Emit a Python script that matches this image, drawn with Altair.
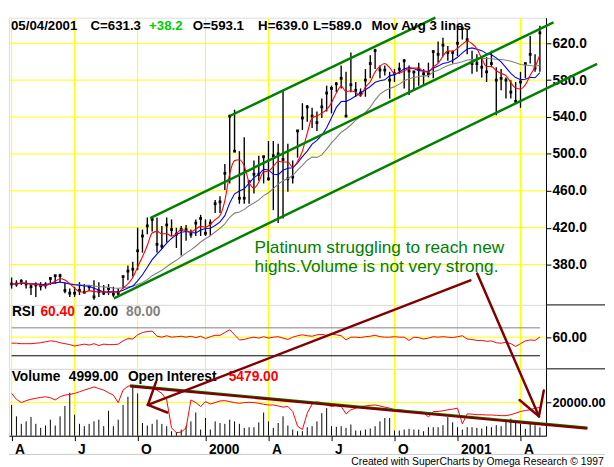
import json
import altair as alt
import pandas as pd

# ---------------- data ----------------
high = [366, 363, 364, 363, 359, 361, 361, 361, 366, 368,
        370, 361, 354, 356, 361, 359, 358, 363, 361, 358,
        359, 356, 354, 368, 379, 383, 420, 418, 431, 430,
        431, 422, 431, 429, 420, 422, 423, 418, 429, 434,
        429, 429, 450, 454, 489, 541, 548, 503, 518, 471,
        493, 498, 498, 514, 514, 511, 569, 511, 493, 526,
        555, 553, 550, 546, 560, 574, 574, 578, 596, 589,
        610, 578, 571, 592, 607, 614, 596, 596, 589, 592,
        599, 603, 596, 590, 599, 592, 599, 612, 622, 626,
        617, 612, 638, 637, 635, 612, 608, 603, 605, 612,
        594, 592, 583, 580, 578, 589, 598, 628, 608, 639.0]
low = [354, 356, 358, 354, 347, 345, 352, 354, 358, 359,
       361, 349, 345, 345, 347, 349, 351, 342, 345, 347,
       347, 345, 347, 354, 363, 367, 374, 393, 413, 416,
       393, 397, 404, 411, 398, 390, 406, 409, 411, 411,
       411, 411, 436, 436, 461, 468, 502, 446, 446, 446,
       457, 471, 468, 471, 439, 425, 430, 459, 468, 496,
       526, 535, 528, 525, 539, 546, 544, 567, 571, 541,
       567, 562, 562, 562, 582, 592, 582, 585, 560, 578,
       587, 571, 564, 569, 574, 574, 583, 582, 599, 606,
       601, 598, 606, 624, 608, 587, 589, 583, 578, 594,
       542, 569, 560, 560, 555, 550, 582, 598, 589, 589.0]
close = [359, 359, 362, 359, 356, 358, 357, 358, 365, 368,
         368, 352, 349, 349, 352, 350, 356, 345, 351, 349,
         354, 348, 349, 367, 373, 375, 395, 411, 422, 429,
         402, 400, 423, 418, 413, 418, 418, 413, 425, 430,
         414, 425, 446, 448, 479, 541, 503, 452, 452, 470,
         478, 478, 497, 473, 498, 500, 494, 473, 475, 525,
         539, 551, 541, 534, 551, 566, 571, 576, 582, 541,
         575, 569, 566, 580, 598, 612, 591, 591, 580, 587,
         592, 601, 590, 589, 592, 587, 587, 611, 608, 618,
         610, 610, 620, 636, 624, 598, 598, 594, 589, 598,
         580, 582, 580, 567, 557, 578, 598, 608, 593.1, 631.3]
rsi = [47, 47, 46, 46, 46, 47, 48, 50, 52, 51,
       48, 46, 44, 41, 43, 45, 43, 46, 42, 45,
       44, 44, 45, 52, 57, 56, 65, 70, 72, 73,
       62, 60, 63, 60, 61, 62, 60, 62, 59, 62,
       57, 61, 64, 64, 70, 76, 65, 54, 55, 58,
       60, 58, 61, 58, 60, 61, 58, 55, 60, 63,
       65, 63, 62, 65, 66, 64, 66, 65, 63, 54,
       60, 60, 59, 61, 62, 64, 61, 60, 60, 61,
       60, 60, 53, 60, 59, 56, 58, 61, 60, 61,
       60, 59, 61, 63, 56, 55, 53, 53, 51, 52,
       48, 47, 49, 46, 40, 46, 52, 54, 53, 60.4]
volume = [18400, 11600, 7100, 8600, 11200, 7100, 4700, 6100, 9600, 6100,
          11600, 17800, 25700, 12600, 7100, 5700, 7100, 8600, 9600, 5700,
          14900, 5700, 9600, 18400, 23300, 29200, 25300, 7600, 6100, 7100,
          9600, 7100, 5700, 2700, 2200, 3700, 5700, 8600, 13900, 3700,
          10600, 3700, 8600, 7600, 7100, 9600, 8600, 7100, 4700, 5100,
          5100, 8000, 13900, 8600, 4700, 7600, 11600, 6100, 3700, 2700,
          2700, 5100, 5700, 8600, 13500, 16500, 5700, 5300, 5700, 4700,
          6700, 3100, 3100, 3700, 4300, 5700, 8600, 10600, 10600, 3100,
          3100, 3700, 4100, 3700, 3700, 2700, 5100, 5100, 5100, 6300,
          11200, 8000, 5100, 3700, 5100, 5100, 4700, 4300, 5700, 5100,
          6300, 5700, 8600, 10200, 9000, 7100, 4100, 7100, 6300, 4999]
open_interest = [25300, 21800, 19800, 21000, 21800, 22400, 22900, 23300, 22700, 21400,
                 23300, 24300, 24700, 25300, 26300, 27300, 28200, 29200, 28200, 27300,
                 25700, 24300, 19800, 27300, 29600, 30200, 29600, 29200, 28800, 28200,
                 27300, 25300, 21400, 4700, 1800, 2200, 4700, 21400, 19800, 17500,
                 20400, 19000, 19800, 20800, 21000, 20400, 19800, 19400, 19800, 20000,
                 19800, 19400, 18800, 18400, 18400, 17800, 17100, 17500, 14500, 5700,
                 3700, 13500, 19000, 20200, 19800, 18400, 17500, 18200, 17500, 13100,
                 15500, 16500, 17500, 17800, 18200, 18400, 17800, 17100, 16500, 15500,
                 15500, 15100, 14500, 14500, 14500, 13900, 11200, 14500, 14500, 14900,
                 15500, 15900, 16500, 7100, 13100, 12900, 12600, 12600, 12400, 12400,
                 12200, 12000, 12000, 12600, 13500, 14500, 15100, 15500, 16500, 16900]

# axis / grid values
quarter_bars = [0, 13, 26, 40, 53, 66, 79, 92, 105]
quarter_labels = ["A", "J", "O", "2000", "A", "J", "O", "2001", "A"]
price_ticks = [380, 420, 460, 500, 540, 580, 620]
rsi_grid = [60]
rsi_levels = [80, 20]
rsi_level_names = ["80.00", "20.00"]
volume_grid = [20000]

# hand-drawn trend channel (bar index, price)
channel_name = ["upper", "upper", "middle", "middle", "lower", "lower"]
channel_bar = [45.1, 87.45, 28.6, 111.8, 21.1, 120.8]
channel_price = [541.4, 647.7, 430.4, 642.7, 343.4, 597.6]

# volume trend line (bar index, volume)
vtrend_bar = [24.46, 118.8]
vtrend_vol = [29600, 4300]

# annotation arrows, in volume-panel coordinates (bar index, volume)
arrow_x = [94.66, 28.12, 28.12, 96.06, 108.8, 108.8]
arrow_y = [92900, 18400, 18400, 97000, 11600, 11600]
arrow_x2 = [28.12, 29.8, 32.12, 108.8, 104.8, 109.8]
arrow_y2 = [18400, 32200, 13900, 11600, 21400, 27100]

# ---------------- chart ----------------
FONT = "Liberation Sans"
W = 546
YELLOW = "#FFFF00"
GREEN = "#008000"
DARKRED = "#800000"

n = len(close)
df = pd.DataFrame({"bar": list(range(n)), "high": high, "low": low, "close": close,
                   "rsi": rsi, "vol": volume, "oi": open_interest})
one = pd.DataFrame({"k": [0]})

xscale = alt.Scale(domain=[-0.54, 110.26], nice=False, zero=False)
X_none = alt.X("bar:Q", scale=xscale, axis=None)

label_expr = f"{json.dumps(quarter_labels)}[indexof({json.dumps(quarter_bars)}, datum.value)]"
x_axis = alt.Axis(orient="bottom", values=quarter_bars, labelExpr=label_expr, title=None,
                  grid=False, labelAlign="left", labelBaseline="top", labelPadding=2,
                  labelOffset=3, labelFontSize=14, labelFontWeight="bold", labelColor="black",
                  labelFont=FONT, tickColor="black", tickSize=5, domainColor="black",
                  labelFlush=False, labelOverlap=False)
X_axis = alt.X("bar:Q", scale=xscale, axis=x_axis)


def yaxis(values, fmt, size=14):
    return alt.Axis(orient="right", values=values, format=fmt, title=None, grid=False,
                    tickSize=5, tickColor="black", domainColor="black", labelPadding=1,
                    labelFontSize=size, labelFontWeight="bold", labelColor="black",
                    labelFont=FONT)


pscale = alt.Scale(domain=[336.3, 647.7], nice=False, zero=False)
paxis = yaxis(price_ticks, ".1f")
rscale = alt.Scale(domain=[-8.1, 129.3], nice=False, zero=False)
raxis = yaxis(rsi_grid, ".2f")
vscale = alt.Scale(domain=[0, 40000], nice=False, zero=False)
vaxis = yaxis(volume_grid, ".2f", 13)


def Yp(f):
    return alt.Y(f"{f}:Q", scale=pscale, axis=paxis)


def Yr(f):
    return alt.Y(f"{f}:Q", scale=rscale, axis=raxis)


def Yv(f):
    return alt.Y(f"{f}:Q", scale=vscale, axis=vaxis)


def txt(text, x, y, color="black", size=14, weight="bold", baseline="middle", align="left"):
    return alt.Chart(one).mark_text(text=text, color=color, fontSize=size, fontWeight=weight,
                                    font=FONT, align=align, baseline=baseline).encode(
        x=alt.value(x), y=alt.value(y))


qdf = pd.DataFrame({"bar": quarter_bars})

# ---- price panel ----
p_vgrid = alt.Chart(qdf).mark_rule(color=YELLOW, strokeWidth=1).encode(x=X_none)
p_hgrid = alt.Chart(pd.DataFrame({"p": price_ticks})).mark_rule(color=YELLOW, strokeWidth=1).encode(y=Yp("p"))
p_bars = alt.Chart(df).mark_rule(color="black", strokeWidth=1.4).encode(x=X_none, y=Yp("low"), y2="high")
p_close = alt.Chart(df).mark_square(color="black", size=8, opacity=1).encode(x=X_none, y=Yp("close"))


def ma(frame, color, interp="linear"):
    return alt.Chart(df).transform_window(
        ma="mean(close)", frame=[-(frame - 1), 0], sort=[{"field": "bar"}]
    ).mark_line(color=color, strokeWidth=1.1, interpolate=interp).encode(x=X_none, y=Yp("ma"))


p_ma_slow = ma(18, "#808080")
p_ma_mid = ma(9, "#0000FF")
p_ma_fast = ma(4, "#FF0000", "monotone")
chdf = pd.DataFrame({"line": channel_name, "bar": channel_bar, "price": channel_price})
p_channel = alt.Chart(chdf).mark_line(color=GREEN, strokeWidth=2.5).encode(
    x=X_none, y=Yp("price"), detail="line:N")

HS = 13.5
header = [
    txt("05/04/2001", 2, 1, size=HS, baseline="top"),
    txt("C=631.3", 82.8, 1, size=HS, baseline="top"),
    txt("+38.2", 142.4, 1, size=HS, color="#00CC00", baseline="top"),
    txt("O=593.1", 186.8, 1, size=HS, baseline="top"),
    txt("H=639.0", 253.3, 1, size=HS, baseline="top"),
    txt("L=589.0", 309, 1, size=HS, baseline="top"),
    txt("Mov Avg 3 lines", 368.6, 1, size=HS, baseline="top"),
]
note = [
    txt("Platinum struggling to reach new", 249.7, 239.2, color=GREEN, size=17.5,
        weight="normal", baseline="alphabetic"),
    txt("highs.Volume is not very strong.", 249.7, 259.0, color=GREEN, size=17.5,
        weight="normal", baseline="alphabetic"),
]

price = alt.layer(p_vgrid, p_hgrid, p_bars, p_close, p_ma_slow, p_ma_mid, p_ma_fast,
                  p_channel, *header, *note).properties(width=W, height=292)

# ---- RSI panel ----
r_vgrid = alt.Chart(qdf).mark_rule(color=YELLOW).encode(x=X_none)
r_hgrid = alt.Chart(pd.DataFrame({"r": rsi_grid})).mark_rule(color=YELLOW).encode(y=Yr("r"))
lvl = pd.DataFrame({"lvl": rsi_levels, "name": rsi_level_names,
                    "x0": [0, 0], "x1": [n - 1, n - 1]})
r_levels = alt.Chart(lvl).mark_rule(strokeWidth=1).encode(
    x=alt.X("x0:Q", scale=xscale, axis=None), x2="x1", y=Yr("lvl"),
    color=alt.Color("name:N", scale=alt.Scale(domain=rsi_level_names, range=["#808080", "black"]),
                    legend=None))
r_line = alt.Chart(df).mark_line(color="#FF0000", strokeWidth=1).encode(x=X_none, y=Yr("rsi"))
r_sep = alt.Chart(one).mark_rule(color="black").encode(x=alt.value(W), x2=alt.value(606), y=alt.value(0))
r_text = [
    txt("RSI", 3, 7),
    txt("60.40", 32, 7, color="#FF0000"),
    txt("20.00", 76, 7),
    txt("80.00", 119, 7, color="#808080"),
]
rsi_panel = alt.layer(r_vgrid, r_hgrid, r_levels, r_line, r_sep, *r_text).properties(width=W, height=65)

# ---- volume panel ----
v_vgrid = alt.Chart(qdf).mark_rule(color=YELLOW).encode(x=X_axis)
v_hgrid = alt.Chart(pd.DataFrame({"v": volume_grid})).mark_rule(color=YELLOW).encode(y=Yv("v"))
v_bars = alt.Chart(df).mark_rule(color="black", strokeWidth=1).encode(x=X_axis, y=Yv("vol"), y2=alt.datum(0))
v_oi = alt.Chart(df).mark_line(color="#FF0000", strokeWidth=1).encode(x=X_axis, y=Yv("oi"))
vt = pd.DataFrame({"bar": vtrend_bar, "vol": vtrend_vol})
v_trend_g = alt.Chart(vt).transform_calculate(v2="datum.vol + 600").mark_line(
    color=GREEN, strokeWidth=2).encode(x=X_axis, y=Yv("v2"))
v_trend_r = alt.Chart(vt).mark_line(color=DARKRED, strokeWidth=2.5).encode(x=X_axis, y=Yv("vol"))
adf = pd.DataFrame({"x": arrow_x, "y": arrow_y, "x2": arrow_x2, "y2": arrow_y2})
v_arrows = alt.Chart(adf).mark_rule(color=DARKRED, strokeWidth=2.5, strokeCap="round").encode(
    x=alt.X("x:Q", scale=xscale, axis=x_axis), y=Yv("y"), x2="x2", y2="y2")
v_sep = alt.Chart(one).mark_rule(color="black").encode(x=alt.value(W), x2=alt.value(606), y=alt.value(0))
v_foot_line = alt.Chart(one).mark_rule(color="#C8C8C8").encode(x=alt.value(0), x2=alt.value(606), y=alt.value(87))
v_text = [
    txt("Volume", 2.7, 8.3),
    txt("4999.00", 60.8, 8.3),
    txt("Open Interest", 120.9, 8.3),
    txt("5479.00", 223.4, 8.3, color="#FF0000"),
    txt("Created with SuperCharts by Omega Research \u00a9 1997", 348, 95, size=10.5, weight="normal"),
]
vol_panel = alt.layer(v_vgrid, v_hgrid, v_bars, v_oi, v_trend_g, v_trend_r, v_sep, v_foot_line,
                      *v_text, v_arrows).properties(width=W, height=68)

chart = alt.vconcat(price, rsi_panel, vol_panel, spacing=0, bounds="flush").properties(
    padding={"left": 0, "top": 0, "right": 0, "bottom": 0}
).configure_view(stroke=None).configure(font=FONT, background="white")

chart.save("out.html", embed_options={"renderer": "svg", "actions": False})
